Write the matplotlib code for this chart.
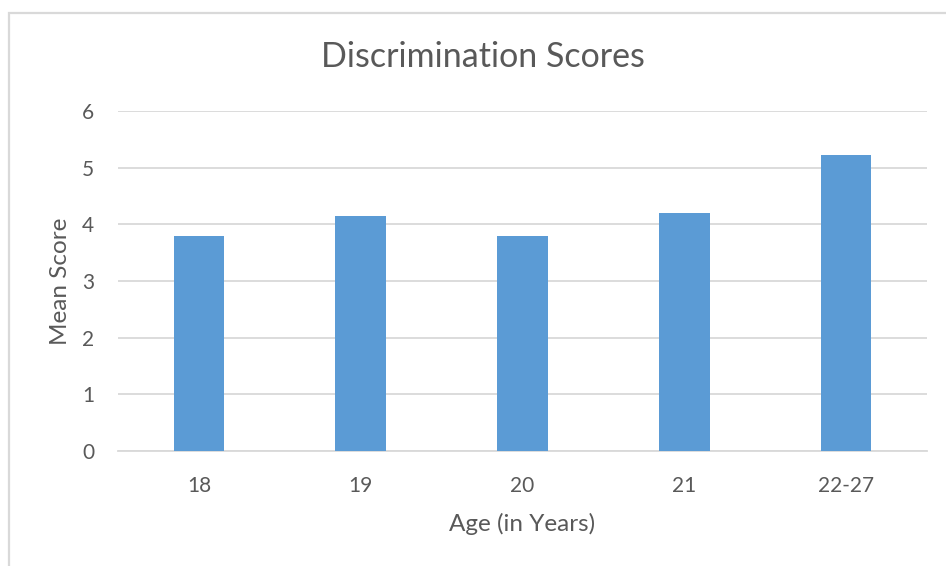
import matplotlib
matplotlib.use('Agg')
import matplotlib.pyplot as plt
from matplotlib.patches import Rectangle

# Data
ages = ['18', '19', '20', '21', '22-27']
mean_scores = [3.8, 4.14, 3.8, 4.2, 5.22]

plt.rcParams['font.family'] = ['Lato', 'DejaVu Sans']
text_color = '#595959'
grid_color = '#D9D9D9'
bar_color = '#5B9BD5'

W, H = 946, 566
fig = plt.figure(figsize=(W / 100, H / 100), dpi=100)

# chart frame (Excel-style border)
fig.patches.append(Rectangle((9 / W, -0.1), 1.2, (H - 13) / H + 0.1, transform=fig.transFigure,
                             fill=False, edgecolor=grid_color, linewidth=1.6))

left, right, top, bottom = 118, 927, 111, 451
ax = fig.add_axes([left / W, 1 - bottom / H, (right - left) / W, (bottom - top) / H])

x = range(len(ages))
ax.bar(x, mean_scores, width=0.313, color=bar_color, zorder=3)

ax.set_xlim(-0.5, len(ages) - 0.5)
ax.set_ylim(0, 6)
ax.set_yticks(range(0, 7))
ax.set_xticks(list(x))
ax.set_xticklabels(ages)
ax.grid(axis='y', color=grid_color, linewidth=1.3, zorder=0)
ax.tick_params(axis='both', length=0, labelsize=15, colors=text_color)
ax.tick_params(axis='y', pad=17)
ax.tick_params(axis='x', pad=18)
for side in ['top', 'right', 'left']:
    ax.spines[side].set_visible(False)
ax.spines['bottom'].set_color(grid_color)
ax.spines['bottom'].set_linewidth(1.3)

ax.set_xlabel('Age (in Years)', fontsize=17.5, color=text_color, labelpad=12)
ax.set_ylabel('Mean Score', fontsize=17.5, color=text_color, labelpad=8)
fig.text(483 / W, 1 - 57 / H, 'Discrimination Scores', fontsize=24.5, color=text_color,
         ha='center', va='center')

fig.savefig('out.png', dpi=100)
